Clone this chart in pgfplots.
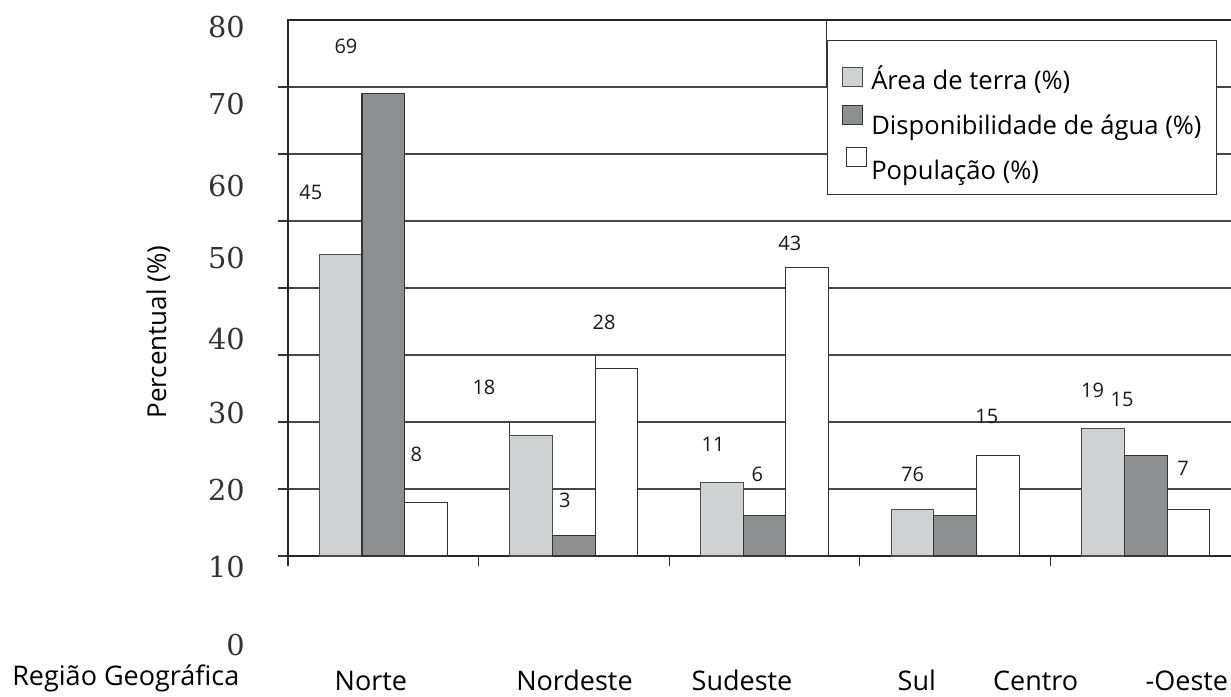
\documentclass[border=0pt]{standalone}
\usepackage{fontspec}
\setmainfont{Open Sans}
\newfontfamily\serifdigits{DejaVu Serif}
\usepackage{pgfplots}
\pgfplotsset{compat=1.18}

\definecolor{terra}{HTML}{D0D1D3}
\definecolor{agua}{HTML}{8E8F91}
\definecolor{traco}{HTML}{333333}

\pgfplotsset{
  swatcha/.style={legend image code/.code={\draw[##1, line width=0.8pt] (0pt,-10.5pt) rectangle (15pt,3.75pt);}},
  swatchb/.style={legend image code/.code={\draw[##1, line width=0.8pt] (0pt,-5pt) rectangle (15pt,9.25pt);}},
  swatchc/.style={legend image code/.code={\draw[##1, line width=0.8pt] (3pt,-3pt) rectangle (18pt,11.25pt);}},
}
\tikzset{lbl/.style={font=\fontsize{15}{18}\selectfont, text=black!90, inner sep=0pt}}

\begin{document}
\begin{tikzpicture}
\path[use as bounding box] (0,0) rectangle (923.25pt,522pt);
\clip (0,0) rectangle (923.25pt,522pt);

% scale numbers on the left
\begin{axis}[
  at={(216pt,0pt)}, anchor=south west,
  scale only axis, width=10pt, height=522pt,
  xmin=0, xmax=1, ymin=0, ymax=696,
  hide x axis,
  axis y line*=left,
  y axis line style={draw=none},
  ytick style={draw=none},
  major tick length=0pt,
  ytick={51,129,206,282.5,357,438,510,592,668.5},
  yticklabels={0,10,20,30,40,50,60,70,80},
  yticklabel style={font=\serifdigits\fontsize{21.6}{24}\selectfont, text=black!80, anchor=east, inner sep=0pt, xshift=-32.25pt},
]
\end{axis}

\begin{axis}[
  at={(216pt,105pt)}, anchor=south west,
  scale only axis, width=714.75pt, height=402pt,
  xmin=-0.5, xmax=4.5, ymin=0, ymax=80,
  ybar=0pt, bar width=32pt,
  axis line style={draw=black!85, line width=1.3pt},
  xtick={-0.5,0.5,1.5,2.5,3.5,4.5}, xticklabels={},
  ytick={0,10,...,70}, yticklabels={},
  xtick pos=bottom, ytick pos=left, tick align=outside,
  major tick length=7.25pt,
  tick style={draw=black!80, line width=0.8pt},
  ymajorgrids, major grid style={draw=black!72, line width=0.85pt},
  extra x ticks={-0.065,1.003,1.882,2.799,3.423,4.216},
  extra x tick labels={Norte,Nordeste,Sudeste,Sul,Centro,-Oeste},
  extra x tick style={major tick length=0pt,
    xticklabel style={anchor=base, inner sep=0pt, yshift=-100.5pt,
      font=\fontsize{20.25}{24}\selectfont}},
  xlabel={Região Geográfica},
  xlabel style={at={(axis description cs:-0.2896,-0.2407)}, anchor=base west,
    inner sep=0pt, font=\fontsize{20.25}{24}\selectfont},
  ylabel={Percentual (\%)},
  ylabel style={at={(axis description cs:-0.128,0.418)}, anchor=base,
    inner sep=0pt, font=\fontsize{19.5}{23}\selectfont},
  legend style={at={(axis description cs:0.5656,0.9627)}, anchor=north west,
    draw=black!80, line width=0.8pt, fill=white,
    inner xsep=11pt, inner ysep=11pt, row sep=8.5pt, column sep=3pt,
    font=\fontsize{19.2}{23}\selectfont,
    nodes={inner sep=0pt, text height=25.5pt, text depth=0pt}},
  legend cell align=left,
  clip=false,
]
\addplot[fill=terra, draw=black!70, line width=0.8pt, swatcha]
  coordinates {(0,45) (1,18) (2,11) (3,7) (4,19)};
\addplot[fill=agua, draw=traco, line width=0.8pt, swatchb]
  coordinates {(0,69) (1,3) (2,6) (3,6) (4,15)};
\addplot[fill=white, draw=traco, line width=0.8pt, swatchc]
  coordinates {(0,8) (1,28) (2,43) (3,15) (4,7)};
\legend{Área de terra (\%), Disponibilidade de água (\%), População (\%)}

% short edges left over around the value boxes
\draw[draw=black!80, line width=0.8pt] (axis cs:2.323,80) -- (axis cs:2.323,70);
\draw[draw=black!80, line width=0.8pt] (axis cs:1.112,28) -- (axis cs:1.112,30);
\draw[draw=black!80, line width=0.8pt] (axis cs:0.664,18) -- (axis cs:0.664,20);

% value labels
\node[lbl] at (axis cs:-0.196,76.1) {69};
\node[lbl] at (axis cs:-0.380,54.3) {45};
\node[lbl] at (axis cs:0.174,15.1) {8};
\node[lbl] at (axis cs:0.528,25.1) {18};
\node[lbl] at (axis cs:1.158,34.9) {28};
\node[lbl] at (axis cs:0.953,8.3) {3};
\node[lbl] at (axis cs:1.730,16.6) {11};
\node[lbl] at (axis cs:1.963,12.2) {6};
\node[lbl] at (axis cs:2.133,46.6) {43};
\node[lbl] at (axis cs:2.777,12.2) {76};
\node[lbl] at (axis cs:3.167,20.8) {15};
\node[lbl] at (axis cs:3.721,24.7) {19};
\node[lbl] at (axis cs:3.876,23.4) {15};
\node[lbl] at (axis cs:4.196,13.1) {7};
\end{axis}
\end{tikzpicture}
\end{document}
